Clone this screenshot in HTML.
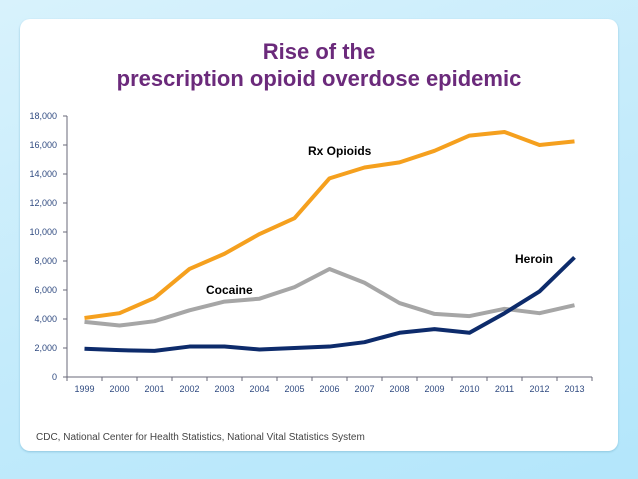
<!DOCTYPE html>
<html><head><meta charset="utf-8"><style>
body{margin:0;width:638px;height:479px;overflow:hidden;background:linear-gradient(160deg,#d8f2fc 0%,#c4ebfb 50%,#b3e6fb 100%);font-family:"Liberation Sans",sans-serif;}
#card{position:absolute;left:20px;top:19px;width:598px;height:432px;background:#fff;border-radius:10px;box-shadow:0 1px 2px #8fc7df;}
#title{position:absolute;left:0;top:38px;width:638px;text-align:center;color:#6b2a7b;font-weight:bold;font-size:22px;line-height:27px;}
#foot{position:absolute;left:36px;top:432px;font-size:10px;color:#444;}
svg{position:absolute;left:0;top:0}
</style></head><body>
<div id="card"></div>
<div id="title">Rise of the<br>prescription opioid overdose epidemic</div>
<div id="foot">CDC, National Center for Health Statistics, National Vital Statistics System</div>
<svg id="c" width="638" height="479"></svg>
<script>
const years=["1999","2000","2001","2002","2003","2004","2005","2006","2007","2008","2009","2010","2011","2012","2013"];
const rx=[4070,4400,5450,7450,8500,9860,10950,13700,14450,14800,15600,16650,16900,16000,16250];
const cocaine=[3800,3550,3850,4600,5200,5400,6200,7450,6500,5100,4350,4200,4700,4400,4950];
const heroin=[1950,1850,1800,2100,2100,1900,2000,2100,2400,3050,3300,3050,4400,5900,8250];
const yTicks=[0,2000,4000,6000,8000,10000,12000,14000,16000,18000];
const svg=document.getElementById('c');const NS='http://www.w3.org/2000/svg';
const x0=67,x1=592,y0=377,y1=116,ymax=18000;
const bw=(x1-x0)/years.length;
const X=i=>x0+bw*(i+0.5);const Y=v=>y0-(v/ymax)*(y0-y1);
function mk(t,a,p){const e=document.createElementNS(NS,t);for(const k in a)e.setAttribute(k,a[k]);(p||svg).appendChild(e);return e;}
let e=mk('line',{x1:x0,y1:y0,x2:x0,y2:y1,stroke:'#6a6a7a','stroke-width':1});


e=mk('line',{x1:x0,y1:y0,x2:x1,y2:y0,stroke:'#6a6a7a','stroke-width':1});


yTicks.forEach(v=>{mk('line',{x1:x0-4,x2:x0,y1:Y(v),y2:Y(v),stroke:'#6a6a7a'});
const t=mk('text',{x:x0-10,y:Y(v)+3,'text-anchor':'end','font-size':'9','fill':'#2f4a80'});t.textContent=v.toLocaleString('en-US');

});
for(let i=0;i<=years.length;i++)mk('line',{x1:x0+bw*i,x2:x0+bw*i,y1:y0,y2:y0+4,stroke:'#6a6a7a'});
years.forEach((y,i)=>{const t=mk('text',{x:X(i),y:y0+15,'text-anchor':'middle','font-size':'9','fill':'#2f4a80'});t.textContent=y;

});
function line(d,c,n){const p=mk('polyline',{points:d.map((v,i)=>X(i)+','+Y(v)).join(' '),fill:'none',stroke:c,'stroke-width':4,'stroke-linejoin':'round'});

}
line(cocaine,'#a6a6a6','cocaine-line');
line(rx,'#f5a01e','rx-opioids-line');
line(heroin,'#0d2b6b','heroin-line');
function lab(s,x,y,n){const t=mk('text',{x:x,y:y,'font-size':'12','font-weight':'bold',fill:'#000'});t.textContent=s;

}
lab('Rx Opioids',308,155,'rx-opioids-label');
lab('Heroin',515,263,'heroin-label');
lab('Cocaine',206,294,'cocaine-label');
</script>
</body></html>
